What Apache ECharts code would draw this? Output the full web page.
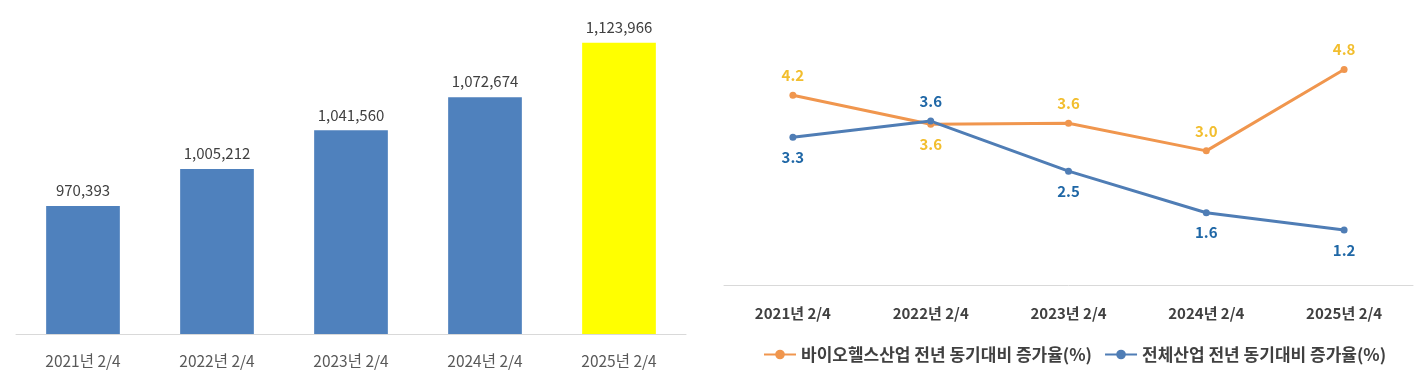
<!DOCTYPE html>
<html>
<head>
<meta charset="utf-8">
<script src="https://cdn.jsdelivr.net/npm/echarts@6.0.0/dist/echarts.min.js"></script>
<style>
  html, body { margin: 0; padding: 0; background: #fff; }
  #chart { width: 1428px; height: 378px; }
</style>
</head>
<body>
<div id="chart"></div>
<script>
// 분기 라벨
const categories = ['2021년 2/4', '2022년 2/4', '2023년 2/4', '2024년 2/4', '2025년 2/4'];

// 왼쪽 막대 (값)
const barValues = [970393, 1005212, 1041560, 1072674, 1123966];

// 오른쪽 선 그래프 (증가율 %)
const bioGrowth = [4.2, 3.56, 3.58, 2.97, 4.77];
const allGrowth = [3.27, 3.63, 2.52, 1.6, 1.22];

// 라벨 위치 (위/아래)
const bioLabelPos = ['top', 'bottom', 'top', 'top', 'top'];
const allLabelPos = ['bottom', 'top', 'bottom', 'bottom', 'bottom'];

const seriesNames = ['바이오헬스산업 전년 동기대비 증가율(%)', '전체산업 전년 동기대비 증가율(%)'];

const FONT = '"Noto Sans CJK KR", "Noto Sans", sans-serif';

document.addEventListener('DOMContentLoaded', () => {
    const chart = echarts.init(document.getElementById('chart'));

    const option = {
        animation: false,
        textStyle: { fontFamily: FONT },
        grid: [
            { left: 16, width: 670, top: 15, bottom: 44 },
            { left: 724, width: 689, top: 14, bottom: 93 }
        ],
        legend: {
            data: seriesNames,
            left: 758,
            top: 341,
            itemWidth: 32,
            itemHeight: 12,
            itemGap: 12,
            textStyle: { fontSize: 17, fontWeight: 'bold', color: '#404040', fontFamily: FONT }
        },
        xAxis: [
            {
                type: 'category',
                gridIndex: 0,
                data: categories,
                axisLine: { lineStyle: { color: '#D9D9D9', width: 1 } },
                axisTick: { show: false },
                axisLabel: { color: '#595959', fontSize: 15.5, margin: 19 }
            },
            {
                type: 'category',
                gridIndex: 1,
                data: categories,
                axisLine: { lineStyle: { color: '#D9D9D9', width: 1 } },
                axisTick: { show: false },
                axisLabel: { color: '#404040', fontSize: 15, fontWeight: 'bold', margin: 21 }
            }
        ],
        yAxis: [
            { type: 'value', gridIndex: 0, min: 850000, max: 1150000, show: false, splitLine: { show: false } },
            { type: 'value', gridIndex: 1, min: 0, max: 6, show: false, splitLine: { show: false } }
        ],
        series: [
            {
                type: 'bar',
                xAxisIndex: 0,
                yAxisIndex: 0,
                barWidth: '55%',
                data: barValues.map((v, i) => ({
                    value: v,
                    itemStyle: { color: i === barValues.length - 1 ? '#FFFF00' : '#4F81BD' }
                })),
                label: {
                    show: true,
                    position: 'top',
                    distance: 8,
                    color: '#404040',
                    fontSize: 15,
                    formatter: p => p.value.toLocaleString('en-US')
                }
            },
            {
                name: seriesNames[0],
                type: 'line',
                xAxisIndex: 1,
                yAxisIndex: 1,
                symbol: 'circle',
                symbolSize: 7,
                lineStyle: { color: '#F0964E', width: 3 },
                itemStyle: { color: '#F0964E' },
                data: bioGrowth.map((v, i) => ({
                    value: v,
                    label: { position: bioLabelPos[i] }
                })),
                label: {
                    show: true,
                    distance: 9,
                    color: '#F2BE2E',
                    fontSize: 15,
                    fontWeight: 'bold',
                    formatter: p => p.value.toFixed(1)
                }
            },
            {
                name: seriesNames[1],
                type: 'line',
                xAxisIndex: 1,
                yAxisIndex: 1,
                symbol: 'circle',
                symbolSize: 7,
                lineStyle: { color: '#4F7DB5', width: 3 },
                itemStyle: { color: '#4F7DB5' },
                data: allGrowth.map((v, i) => ({
                    value: v,
                    label: { position: allLabelPos[i] }
                })),
                label: {
                    show: true,
                    distance: 9,
                    color: '#1F67A6',
                    fontSize: 15,
                    fontWeight: 'bold',
                    formatter: p => p.value.toFixed(1)
                }
            }
        ]
    };

    chart.setOption(option);
});
</script>
</body>
</html>
